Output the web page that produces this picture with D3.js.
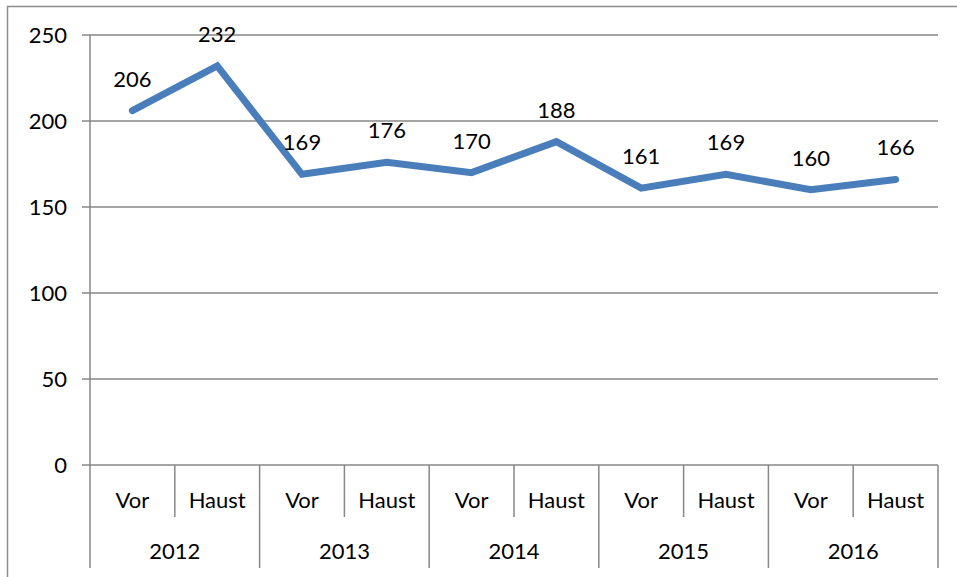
<!DOCTYPE html>
<html>
<head>
<meta charset="utf-8">
<script src="https://cdn.jsdelivr.net/npm/d3@7"></script>
<style>
  body { margin: 0; background: #fff; }
  text { font-family: Lato, "Open Sans", sans-serif; fill: #000; }
</style>
</head>
<body>
<script>
// data
var years = ["2012", "2013", "2014", "2015", "2016"];
var halves = ["Vor", "Haust"];
var values = [206, 232, 169, 176, 170, 188, 161, 169, 160, 166];
var yTicks = [0, 50, 100, 150, 200, 250];

var w = 957, h = 577;
var pLeft = 90, pRight = 938, pTop = 35, pBottom = 465;

var svg = d3.select("body").append("svg")
    .attr("width", w)
    .attr("height", h);

// outer frame (top + left only visible)
svg.append("path")
    .attr("d", "M7.5," + h + "V6.5H" + w)
    .attr("fill", "none")
    .attr("stroke", "#8c8c8c")
    .attr("stroke-width", 1.5);

var cats = [];
years.forEach(function(y) { halves.forEach(function(hf) { cats.push(y + "|" + hf); }); });

var x = d3.scaleBand().domain(cats).range([pLeft, pRight]);
var xYear = d3.scaleBand().domain(years).range([pLeft, pRight]);
var y = d3.scaleLinear().domain([0, 250]).range([pBottom, pTop]);

var grey = "#878787";

// gridlines
svg.selectAll(".grid")
    .data(yTicks.slice(1))
  .enter().append("line")
    .attr("x1", pLeft - 8).attr("x2", pRight)
    .attr("y1", function(d) { return y(d); })
    .attr("y2", function(d) { return y(d); })
    .attr("stroke", grey)
    .attr("stroke-width", 1.5);

// y axis
svg.append("line")
    .attr("x1", pLeft).attr("x2", pLeft)
    .attr("y1", pTop).attr("y2", 568)
    .attr("stroke", grey).attr("stroke-width", 1.5);

svg.append("line")
    .attr("x1", pLeft - 8).attr("x2", pRight)
    .attr("y1", pBottom).attr("y2", pBottom)
    .attr("stroke", grey).attr("stroke-width", 1.5);

svg.selectAll(".ylab")
    .data(yTicks)
  .enter().append("text")
    .attr("x", pLeft - 23)
    .attr("y", function(d) { return y(d) + 8; })
    .attr("text-anchor", "end")
    .attr("font-size", 22)
    .text(function(d) { return d; });

// category separators
svg.selectAll(".sep")
    .data(cats.slice(1))
  .enter().append("line")
    .attr("x1", function(d) { return x(d); })
    .attr("x2", function(d) { return x(d); })
    .attr("y1", pBottom)
    .attr("y2", function(d) { return d.split("|")[1] == "Vor" ? 568 : 517; })
    .attr("stroke", grey).attr("stroke-width", 1.5);

svg.append("line")
    .attr("x1", pRight).attr("x2", pRight)
    .attr("y1", pBottom).attr("y2", 568)
    .attr("stroke", grey).attr("stroke-width", 1.5);

svg.selectAll(".xlab")
    .data(cats)
  .enter().append("text")
    .attr("x", function(d) { return x(d) + x.bandwidth() / 2; })
    .attr("y", 508)
    .attr("text-anchor", "middle")
    .attr("font-size", 22)
    .text(function(d) { return d.split("|")[1]; });

svg.selectAll(".yearlab")
    .data(years)
  .enter().append("text")
    .attr("x", function(d) { return xYear(d) + xYear.bandwidth() / 2; })
    .attr("y", 559)
    .attr("text-anchor", "middle")
    .attr("font-size", 22)
    .text(function(d) { return d; });

// line
var line = d3.line()
    .x(function(d, i) { return x(cats[i]) + x.bandwidth() / 2; })
    .y(function(d) { return y(d); });

svg.append("path")
    .datum(values)
    .attr("d", line)
    .attr("fill", "none")
    .attr("stroke", "#4a7ebb")
    .attr("stroke-width", 7)
    .attr("stroke-linecap", "round")
    .attr("stroke-linejoin", "miter");

svg.selectAll(".vlab")
    .data(values)
  .enter().append("text")
    .attr("x", function(d, i) { return x(cats[i]) + x.bandwidth() / 2; })
    .attr("y", function(d) { return y(d) - 24; })
    .attr("text-anchor", "middle")
    .attr("font-size", 22)
    .text(function(d) { return d; });
</script>
</body>
</html>
